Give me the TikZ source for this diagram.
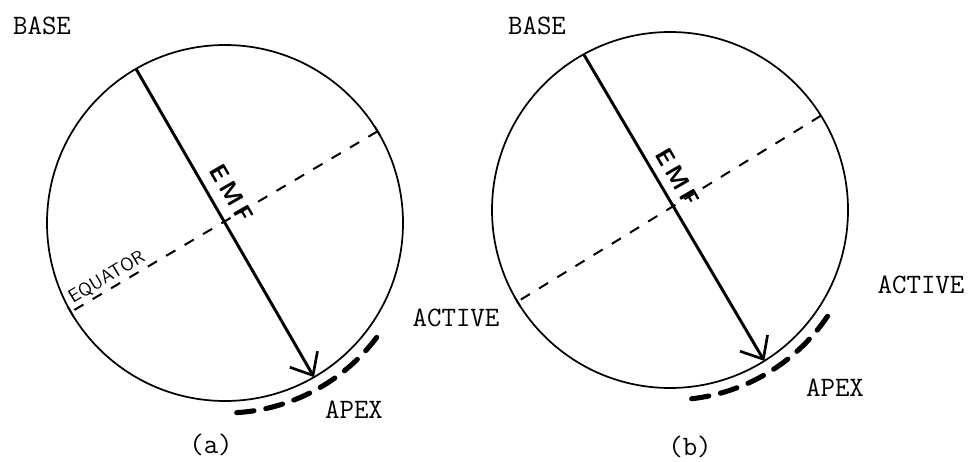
\documentclass[tikz,border=0pt]{standalone}
\usetikzlibrary{arrows.meta,calc}
\begin{document}
\begin{tikzpicture}[x=0.75pt,y=0.75pt,
  globe/.style={circle,draw,line width=1.3pt,minimum size=267pt,inner sep=0pt,outer sep=0pt},
  emf/.style={line width=2.2pt,-{Straight Barb[length=14pt,width=24pt,line width=2pt]}},
  eqline/.style={line width=1.5pt,dash pattern=on 8pt off 8pt},
  eqtick/.style={line width=1.4pt},
  active/.style={line width=3.8pt,line cap=round,dash pattern=on 13pt off 9pt},
  typed/.style={font=\fontsize{17.28}{17.28}\selectfont\ttfamily,inner sep=0pt,scale=1.22,transform shape},
  hand/.style={font=\fontsize{17}{17}\selectfont\sffamily\bfseries,inner sep=0pt,scale=1.08,transform shape},
  handsmall/.style={font=\fontsize{14}{14}\selectfont\sffamily,inner sep=0pt}]
\useasboundingbox (0,0) rectangle (970,461);
% ---------- (a) ----------
\node[globe] (ca) at (225,238) {};
\draw[eqline] (ca.31) -- (ca.210);
\draw[eqtick] ($(ca.31)!4pt!90:(ca.center)$) -- ($(ca.31)!4pt!-90:(ca.center)$);
\draw[eqtick] ($(ca.210)!4pt!90:(ca.center)$) -- ($(ca.210)!4pt!-90:(ca.center)$);
\draw[emf] (ca.120) -- (ca.-60);
\draw[active] ([shift={(-37:190)}]ca.center) arc[start angle=-37,end angle=-88,radius=142.5pt];
\node[typed] (basea) at (42,435) {BASE};
\node[typed] (activea) at (456,143) {ACTIVE};
\node[typed] (apexa) at (354,51) {APEX};
\node[typed] (capa) at (211,16) {(a)};
\node[hand,rotate=-60] (emfa) at (232,268) {E\,M\,F};
\node[handsmall,rotate=31,anchor=base west] (equa) at (73,157) {EQUATOR};
% ---------- (b) ----------
\node[globe] (cb) at (670,251) {};
\draw[eqline] (cb.32) -- (cb.211);
\draw[eqtick] ($(cb.211)!4pt!90:(cb.center)$) -- ($(cb.211)!4pt!-90:(cb.center)$);
\draw[emf] (cb.119.5) -- (cb.-58.5);
\draw[active] ([shift={(-34:190)}]cb.center) arc[start angle=-34,end angle=-87,radius=142.5pt];
\node[typed] (baseb) at (537,435) {BASE};
\node[typed] (activeb) at (921,176) {ACTIVE};
\node[typed] (apexb) at (835,73) {APEX};
\node[typed] (capb) at (690,14) {(b)};
\node[hand,rotate=-60] (emfb) at (678,284) {E\,M\,F};
\end{tikzpicture}
\end{document}
